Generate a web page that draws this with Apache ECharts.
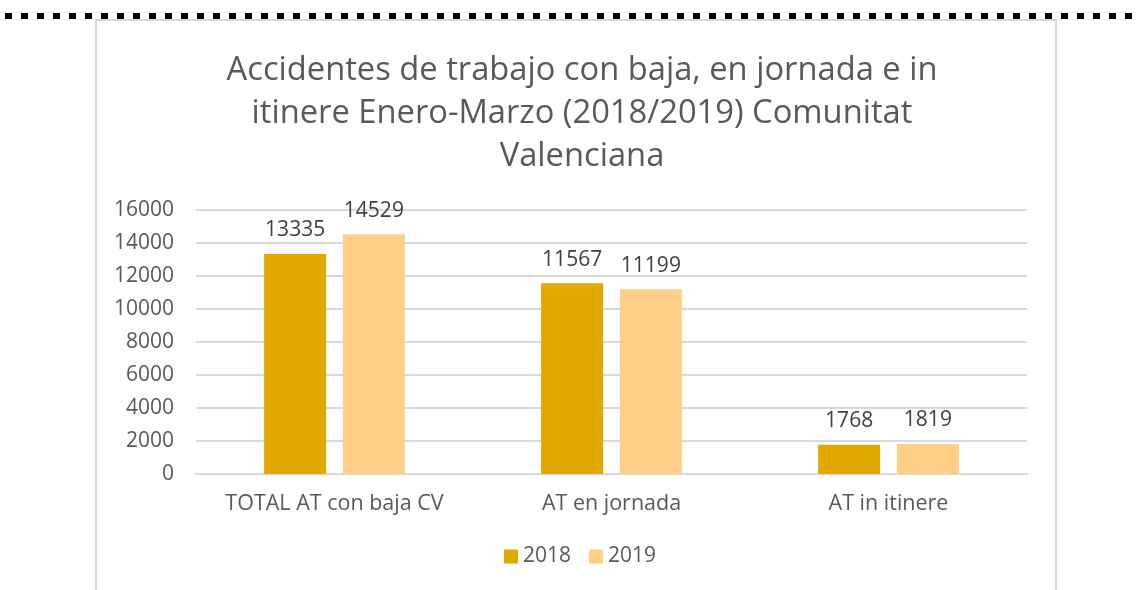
<!DOCTYPE html>
<html>
<head>
<meta charset="utf-8">
<script src="https://cdn.jsdelivr.net/npm/echarts@6/dist/echarts.min.js"></script>
<style>
  html, body { margin: 0; padding: 0; background: #fff; }
  #chart { width: 1137px; height: 590px; }
</style>
</head>
<body>
<div id="chart"></div>
<script>
// datos
const categorias = ['TOTAL AT con baja CV', 'AT en jornada', 'AT in itinere'];
const valores2018 = [13335, 11567, 1768];
const valores2019 = [14529, 11199, 1819];
const anios = ['2018', '2019'];

const fuente = '"Open Sans", sans-serif';
const gris = '#595959';

const chart = echarts.init(document.getElementById('chart'));

const etiqueta = {
    show: true,
    position: 'top',
    distance: 13,
    color: '#404040',
    fontFamily: fuente,
    fontSize: 21
};

const option = {
    animation: false,
    color: ['#E2A800', '#FFCF87'],
    title: {
        text: 'Accidentes de trabajo con baja, en jornada e in\nitinere Enero-Marzo (2018/2019) Comunitat\nValenciana',
        left: 577,
        textAlign: 'center',
        top: 44,
        textStyle: {
            fontFamily: fuente,
            fontWeight: 'normal',
            fontSize: 32.7,
            lineHeight: 43,
            color: gris
        }
    },
    legend: {
        data: anios,
        bottom: 18,
        left: 499,
        itemWidth: 14,
        itemHeight: 14,
        itemGap: 18,
        icon: 'rect',
        textStyle: { fontFamily: fuente, fontSize: 21, color: gris }
    },
    grid: { left: 196, right: 110, top: 210, bottom: 116 },
    xAxis: {
        type: 'category',
        data: categorias,
        axisLine: { lineStyle: { color: '#d9d9d9', width: 2 } },
        axisTick: { show: false },
        axisLabel: { interval: 0, margin: 19, fontFamily: fuente, fontSize: 21.5, color: gris }
    },
    yAxis: {
        type: 'value',
        min: 0,
        max: 16000,
        interval: 2000,
        axisLine: { show: false },
        axisTick: { show: false },
        splitLine: { lineStyle: { color: '#d9d9d9', width: 2 } },
        axisLabel: {
            margin: 22,
            fontFamily: fuente,
            fontSize: 21,
            color: gris,
            formatter: v => String(v)
        }
    },
    series: [
        { name: anios[0], type: 'bar', data: valores2018, barWidth: 62, barGap: '27%', label: etiqueta },
        { name: anios[1], type: 'bar', data: valores2019, barWidth: 62, barGap: '27%', label: etiqueta }
    ],
    graphic: [
        {
            type: 'line',
            shape: { x1: 5, y1: 16, x2: 1137, y2: 16 },
            style: { stroke: '#000', lineWidth: 6, lineDash: [7, 9] }
        },
        {
            type: 'polyline',
            shape: { points: [[96, 590], [96, 20], [1056, 20], [1056, 590]] },
            style: { stroke: '#d9d9d9', lineWidth: 2, fill: null }
        }
    ]
};

chart.setOption(option);
</script>
</body>
</html>
